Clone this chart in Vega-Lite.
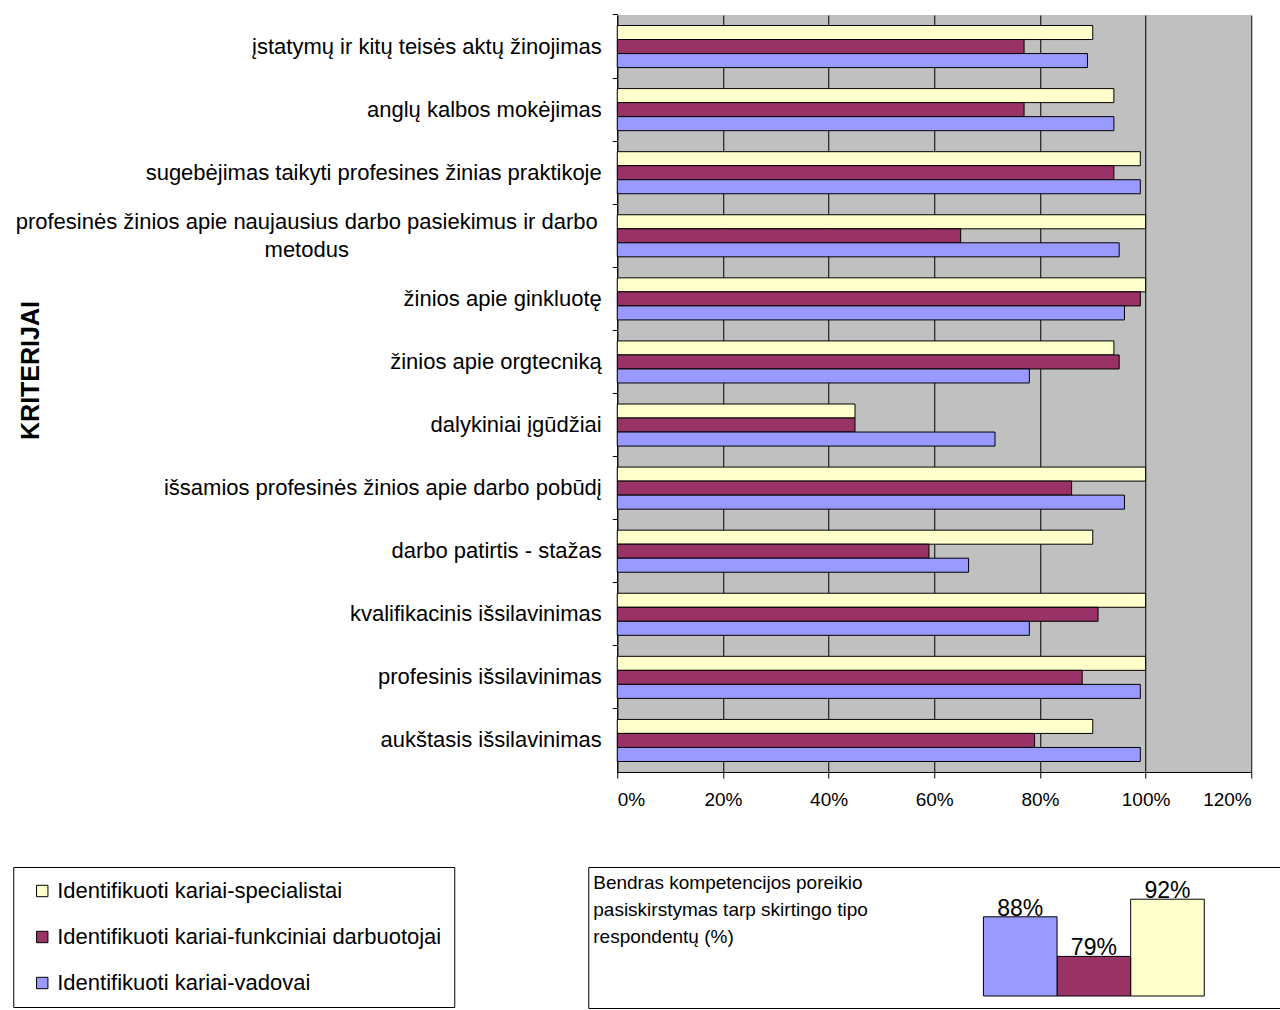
{
  "$schema": "https://vega.github.io/schema/vega-lite/v6.json",
  "padding": {"left": 12, "top": 13, "right": 0, "bottom": 0},
  "background": "white",
  "config": {"font": "Liberation Sans", "view": {"stroke": null}},
  "datasets": {
    "criteria": [
      {"criterion": "įstatymų ir kitų teisės aktų žinojimas", "series": "Identifikuoti kariai-specialistai", "value": 90},
      {"criterion": "įstatymų ir kitų teisės aktų žinojimas", "series": "Identifikuoti kariai-funkciniai darbuotojai", "value": 77},
      {"criterion": "įstatymų ir kitų teisės aktų žinojimas", "series": "Identifikuoti kariai-vadovai", "value": 89},
      {"criterion": "anglų kalbos mokėjimas", "series": "Identifikuoti kariai-specialistai", "value": 94},
      {"criterion": "anglų kalbos mokėjimas", "series": "Identifikuoti kariai-funkciniai darbuotojai", "value": 77},
      {"criterion": "anglų kalbos mokėjimas", "series": "Identifikuoti kariai-vadovai", "value": 94},
      {"criterion": "sugebėjimas taikyti profesines žinias praktikoje", "series": "Identifikuoti kariai-specialistai", "value": 99},
      {"criterion": "sugebėjimas taikyti profesines žinias praktikoje", "series": "Identifikuoti kariai-funkciniai darbuotojai", "value": 94},
      {"criterion": "sugebėjimas taikyti profesines žinias praktikoje", "series": "Identifikuoti kariai-vadovai", "value": 99},
      {"criterion": "profesinės žinios apie naujausius darbo pasiekimus ir darbo metodus", "series": "Identifikuoti kariai-specialistai", "value": 100},
      {"criterion": "profesinės žinios apie naujausius darbo pasiekimus ir darbo metodus", "series": "Identifikuoti kariai-funkciniai darbuotojai", "value": 65},
      {"criterion": "profesinės žinios apie naujausius darbo pasiekimus ir darbo metodus", "series": "Identifikuoti kariai-vadovai", "value": 95},
      {"criterion": "žinios apie ginkluotę", "series": "Identifikuoti kariai-specialistai", "value": 100},
      {"criterion": "žinios apie ginkluotę", "series": "Identifikuoti kariai-funkciniai darbuotojai", "value": 99},
      {"criterion": "žinios apie ginkluotę", "series": "Identifikuoti kariai-vadovai", "value": 96},
      {"criterion": "žinios apie orgtecniką", "series": "Identifikuoti kariai-specialistai", "value": 94},
      {"criterion": "žinios apie orgtecniką", "series": "Identifikuoti kariai-funkciniai darbuotojai", "value": 95},
      {"criterion": "žinios apie orgtecniką", "series": "Identifikuoti kariai-vadovai", "value": 78},
      {"criterion": "dalykiniai įgūdžiai", "series": "Identifikuoti kariai-specialistai", "value": 45},
      {"criterion": "dalykiniai įgūdžiai", "series": "Identifikuoti kariai-funkciniai darbuotojai", "value": 45},
      {"criterion": "dalykiniai įgūdžiai", "series": "Identifikuoti kariai-vadovai", "value": 71.5},
      {"criterion": "išsamios profesinės žinios apie darbo pobūdį", "series": "Identifikuoti kariai-specialistai", "value": 100},
      {"criterion": "išsamios profesinės žinios apie darbo pobūdį", "series": "Identifikuoti kariai-funkciniai darbuotojai", "value": 86},
      {"criterion": "išsamios profesinės žinios apie darbo pobūdį", "series": "Identifikuoti kariai-vadovai", "value": 96},
      {"criterion": "darbo patirtis - stažas", "series": "Identifikuoti kariai-specialistai", "value": 90},
      {"criterion": "darbo patirtis - stažas", "series": "Identifikuoti kariai-funkciniai darbuotojai", "value": 59},
      {"criterion": "darbo patirtis - stažas", "series": "Identifikuoti kariai-vadovai", "value": 66.5},
      {"criterion": "kvalifikacinis išsilavinimas", "series": "Identifikuoti kariai-specialistai", "value": 100},
      {"criterion": "kvalifikacinis išsilavinimas", "series": "Identifikuoti kariai-funkciniai darbuotojai", "value": 91},
      {"criterion": "kvalifikacinis išsilavinimas", "series": "Identifikuoti kariai-vadovai", "value": 78},
      {"criterion": "profesinis išsilavinimas", "series": "Identifikuoti kariai-specialistai", "value": 100},
      {"criterion": "profesinis išsilavinimas", "series": "Identifikuoti kariai-funkciniai darbuotojai", "value": 88},
      {"criterion": "profesinis išsilavinimas", "series": "Identifikuoti kariai-vadovai", "value": 99},
      {"criterion": "aukštasis išsilavinimas", "series": "Identifikuoti kariai-specialistai", "value": 90},
      {"criterion": "aukštasis išsilavinimas", "series": "Identifikuoti kariai-funkciniai darbuotojai", "value": 79},
      {"criterion": "aukštasis išsilavinimas", "series": "Identifikuoti kariai-vadovai", "value": 99}
    ],
    "overall": [
      {"series": "Identifikuoti kariai-specialistai", "value": 0.92},
      {"series": "Identifikuoti kariai-funkciniai darbuotojai", "value": 0.79},
      {"series": "Identifikuoti kariai-vadovai", "value": 0.88}
    ]
  },
  "center": true,
  "spacing": 57,
  "resolve": {"scale": {"color": "independent"}, "legend": {"color": "independent"}},
  "vconcat": [
    {
      "width": 634,
      "height": 757,
      "data": {"name": "criteria"},
      "view": {"fill": "#C0C0C0", "stroke": null},
      "mark": {"type": "bar", "stroke": "black", "strokeWidth": 1},
      "encoding": {
        "y": {
          "field": "criterion",
          "type": "nominal",
          "sort": null,
          "scale": {"paddingInner": 0.333, "paddingOuter": 0.1667},
          "axis": {
            "title": "KRITERIJAI",
            "titleFontSize": 25,
            "titleFontWeight": "bold",
            "titleColor": "black",
            "titleX": -574,
            "titleY": 355,
            "titleAngle": -90,
            "titleBaseline": "bottom",
            "titleAlign": "center",
            "labelFontSize": 22,
            "labelColor": "black",
            "labelLimit": 700,
            "labelLineHeight": 28,
            "labelExpr": "indexof(datum.value, 'naujausius') >= 0 ? ['profesinės žinios apie naujausius darbo pasiekimus ir darbo', 'metodus'] : datum.label",
            "labelAlign": {"condition": {"test": "indexof(datum.value, 'naujausius') >= 0", "value": "center"}, "value": "right"},
            "labelPadding": {"condition": {"test": "indexof(datum.value, 'naujausius') >= 0", "value": 306}, "value": 11},
            "labelOffset": {"condition": {"test": "indexof(datum.value, 'naujausius') >= 0", "value": -14}, "value": 0},
            "bandPosition": -0.25,
            "tickSize": 5,
            "tickColor": "black",
            "domainColor": "black",
            "grid": false
          }
        },
        "yOffset": {
          "field": "series",
          "type": "nominal",
          "sort": ["Identifikuoti kariai-specialistai", "Identifikuoti kariai-funkciniai darbuotojai", "Identifikuoti kariai-vadovai"]
        },
        "x": {
          "field": "value",
          "type": "quantitative",
          "scale": {"domain": [0, 120], "nice": false},
          "axis": {
            "values": [0, 20, 40, 60, 80, 100, 120],
            "labelExpr": "datum.value + '%'",
            "title": null,
            "labelFontSize": 19,
            "labelColor": "black",
            "labelPadding": 12,
            "tickSize": 6,
            "tickColor": "black",
            "domainColor": "black",
            "grid": true,
            "gridColor": "black",
            "gridOpacity": 1
          }
        },
        "color": {
          "field": "series",
          "type": "nominal",
          "scale": {
            "domain": ["Identifikuoti kariai-specialistai", "Identifikuoti kariai-funkciniai darbuotojai", "Identifikuoti kariai-vadovai"],
            "range": ["#FFFFCC", "#993366", "#9999FF"]
          },
          "legend": null
        }
      }
    },
    {
      "width": 692,
      "height": 141,
      "data": {"name": "overall"},
      "view": {"stroke": "black", "strokeWidth": 1},
      "title": {
        "text": ["Bendras kompetencijos poreikio", "pasiskirstymas tarp skirtingo tipo", "respondentų (%)"],
        "anchor": "start",
        "frame": "group",
        "offset": -80,
        "dx": 5,
        "fontSize": 19,
        "fontWeight": "normal",
        "lineHeight": 27,
        "color": "black"
      },
      "encoding": {
        "x": {
          "field": "series",
          "type": "nominal",
          "scale": {
            "domain": ["_a", "_b", "_c", "_d", "_e", "Identifikuoti kariai-vadovai", "Identifikuoti kariai-funkciniai darbuotojai", "Identifikuoti kariai-specialistai", "_f"],
            "paddingInner": 0,
            "paddingOuter": 0.2,
            "align": 0.92
          },
          "axis": null
        },
        "y": {
          "field": "value",
          "type": "quantitative",
          "scale": {"domain": [0.6727, 0.9932], "nice": false, "zero": false},
          "axis": null
        }
      },
      "layer": [
        {
          "mark": {"type": "bar", "stroke": "black", "strokeWidth": 1},
          "encoding": {
            "y2": {"datum": 0.70},
            "color": {
              "field": "series",
              "type": "nominal",
              "scale": {
                "domain": ["Identifikuoti kariai-specialistai", "Identifikuoti kariai-funkciniai darbuotojai", "Identifikuoti kariai-vadovai"],
                "range": ["#FFFFCC", "#993366", "#9999FF"]
              },
              "legend": {
                "orient": "none",
                "legendX": -575,
                "legendY": 0,
                "direction": "vertical",
                "title": null,
                "strokeColor": "black",
                "fillColor": "white",
                "padding": 13,
                "symbolType": "square",
                "symbolSize": 130,
                "symbolStrokeColor": "black",
                "symbolStrokeWidth": 1,
                "symbolOffset": 5,
                "labelFontSize": 22,
                "labelColor": "black",
                "labelOffset": 4,
                "labelLimit": 500,
                "rowPadding": 24
              }
            }
          }
        },
        {
          "mark": {"type": "text", "fontSize": 23, "baseline": "middle", "dy": -8, "color": "black"},
          "encoding": {"text": {"field": "value", "type": "quantitative", "format": ".0%"}}
        }
      ]
    }
  ]
}
